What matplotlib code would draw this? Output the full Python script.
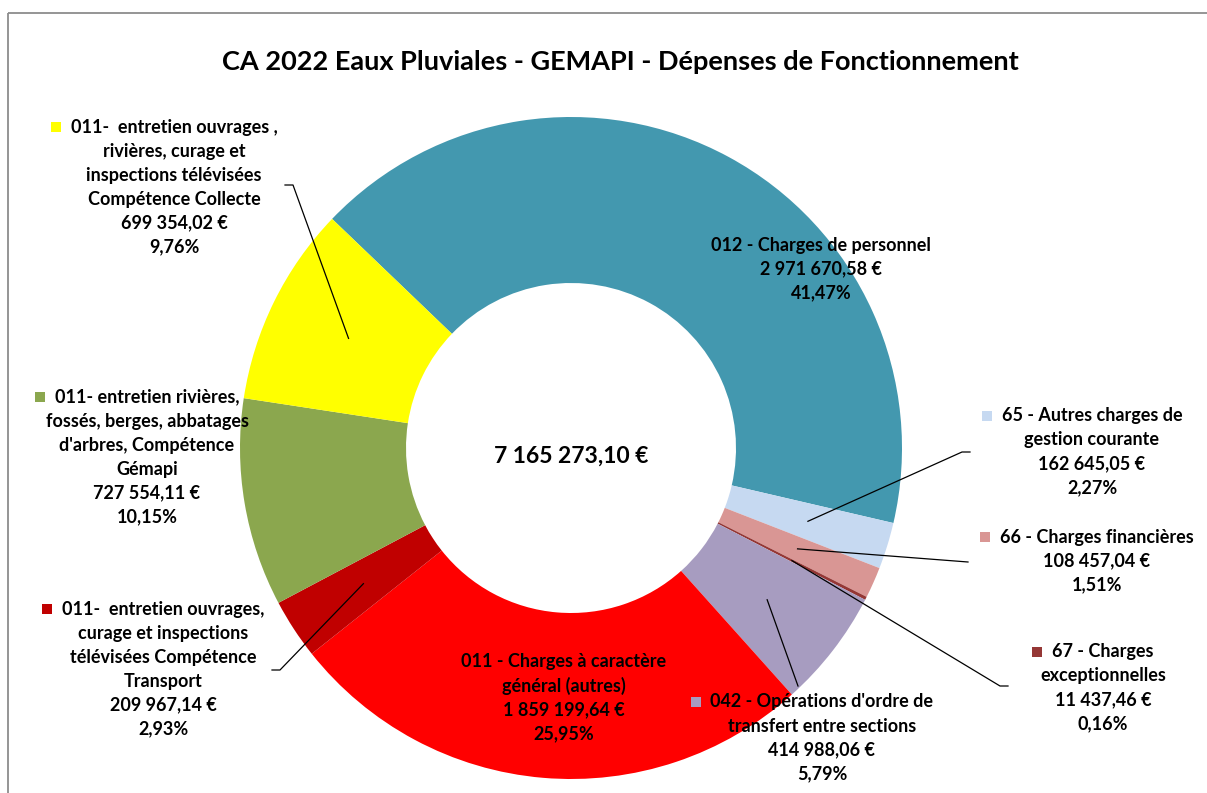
import matplotlib
matplotlib.use('Agg')
import matplotlib.pyplot as plt
import numpy as np
from matplotlib.patches import Rectangle

# ---------------- data ----------------
categories = [
    "012 - Charges de personnel",
    "65 - Autres charges de\ngestion courante",
    "66 - Charges financières",
    "67 - Charges\nexceptionnelles",
    "042 - Opérations d'ordre de\ntransfert entre sections",
    "011 - Charges à caractère\ngénéral (autres)",
    "011-  entretien ouvrages,\ncurage et inspections\ntélévisées Compétence\nTransport",
    "011- entretien rivières,\nfossés, berges, abbatages\nd'arbres, Compétence\nGémapi",
    "011-  entretien ouvrages ,\nrivières, curage et\ninspections télévisées\nCompétence Collecte",
]
values = [2971670.58, 162645.05, 108457.04, 11437.46, 414988.06,
          1859199.64, 209967.14, 727554.11, 699354.02]
colors = ["#4398AF", "#C6D9F1", "#D99694", "#953735", "#A79CC0",
          "#FF0000", "#C00000", "#8BA74E", "#FFFF00"]
title = "CA 2022 Eaux Pluviales - GEMAPI - Dépenses de Fonctionnement"

# ---------------- layout (pixel coords, y down) ----------------
W, H = 1207, 793
label_pos = [(821, 245), (1092, 416), (1097, 537), (1103, 652), (822, 702),
             (564, 662), (163.5, 609), (147, 397), (174, 127)]
leader_pts = [None, [(962, 452), (970, 452)], [(968, 562)],
              [(1000, 686), (1008, 686)], [(798, 686)], None,
              [(280, 670), (272, 670)], None, [(293, 185), (285, 185)]]
FONT = "Lato"
LS = 24  # line spacing px


def fr_num(v):
    s = f"{v:,.2f}"
    return s.replace(",", " ").replace(".", ",")


def P(x, y):
    return x, H - y


fig = plt.figure(figsize=(W / 100, H / 100), dpi=100)
ax = fig.add_axes([0, 0, 1, 1])
cx, cy = P(571, 448)
R_OUT, R_IN = 331, 165
wedges, _ = ax.pie(values, colors=colors, startangle=136.2, counterclock=False,
                   radius=R_OUT, center=(cx, cy),
                   wedgeprops=dict(width=R_OUT - R_IN, linewidth=0))
ax.set_xlim(0, W)
ax.set_ylim(0, H)
ax.set_aspect('equal')
ax.axis('off')

# frame
ax.plot([8, W], [H - 13, H - 13], color="#8c8c8c", lw=1.3, solid_capstyle='butt')
ax.plot([8, 8], [H - 13, 0], color="#8c8c8c", lw=1.3, solid_capstyle='butt')

# title
ax.text(*P(620, 62), title, ha='center', va='center', fontsize=19.5,
        fontweight='bold', family=FONT, color='black')

total = sum(values)
ax.text(*P(571, 456), fr_num(total) + " €", ha='center', va='center',
        fontsize=16.5, fontweight='bold', family=FONT, color='black')

fig.canvas.draw()
renderer = fig.canvas.get_renderer()

for i, (cat, v) in enumerate(zip(categories, values)):
    lines = cat.split("\n") + [fr_num(v) + " €", f"{v / total * 100:.2f}%".replace(".", ",")]
    lx, ly = label_pos[i]
    first = None
    for j, ln in enumerate(lines):
        t = ax.text(*P(lx, ly + j * LS), ln, ha='center', va='center',
                    fontsize=13, fontweight='bold', family=FONT, color='black',
                    zorder=5)
        if j == 0:
            first = t
    bb = first.get_window_extent(renderer)
    ks = 10
    ax.add_patch(Rectangle((bb.x0 - 10 - ks, H - ly - ks / 2), ks, ks,
                           facecolor=colors[i], edgecolor='none', zorder=4))
    # leader lines
    if leader_pts[i] is not None:
        w = wedges[i]
        mid = np.deg2rad((w.theta1 + w.theta2) / 2)
        rm = (R_OUT + R_IN) / 2
        xs = [cx + rm * np.cos(mid)] + [p[0] for p in leader_pts[i]]
        ys = [cy + rm * np.sin(mid)] + [H - p[1] for p in leader_pts[i]]
        ax.plot(xs, ys, color='black', lw=0.9, zorder=3)

fig.savefig("out.png", dpi=100)
